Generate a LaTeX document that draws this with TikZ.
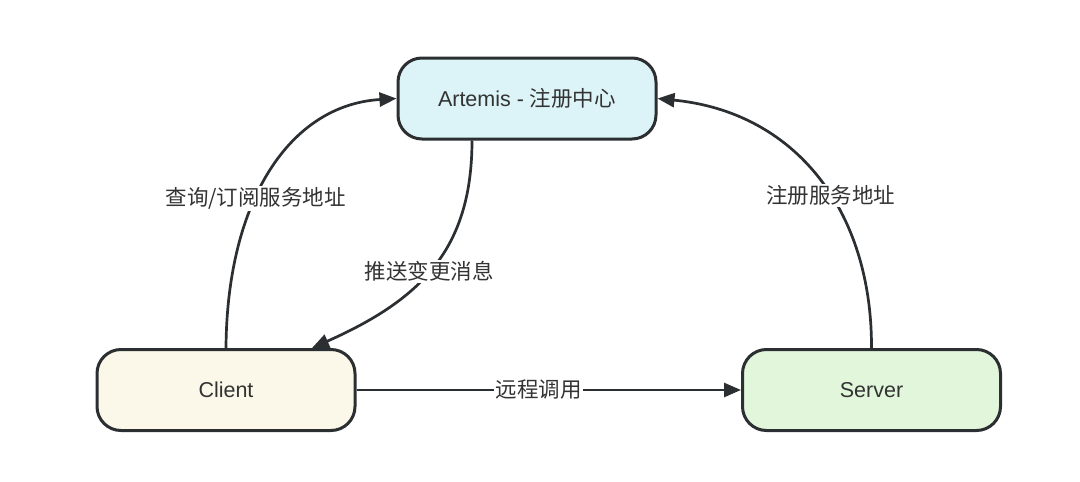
\documentclass[tikz,border=0pt]{standalone}
\usepackage{fontspec}
\setmainfont{Liberation Sans}
\newfontfamily\cjk{Noto Sans CJK SC}
\usetikzlibrary{arrows.meta}
\definecolor{ink}{HTML}{333333}
\definecolor{edge}{HTML}{2B2F32}
\definecolor{artfill}{HTML}{DCF4F7}
\definecolor{clifill}{HTML}{FBF8E9}
\definecolor{srvfill}{HTML}{E2F6DC}
\begin{document}
\begin{tikzpicture}[x=1pt,y=-1pt,
  box/.style={draw=edge, line width=3pt, rounded corners=24pt,
    minimum width=258pt, minimum height=81pt, inner sep=0pt,
    font=\fontsize{21.5}{25}\selectfont, text=ink},
  link/.style={draw=edge, line width=2.7pt, -{Triangle[length=17pt,width=14pt]}},
  lbl/.style={fill=white, text=ink, font=\cjk\fontsize{21.5}{25}\selectfont, inner sep=1.5pt}]
\fill[white] (0,0) rectangle (1080,482);
\useasboundingbox (0,0) rectangle (1080,482);
\node[box, fill=artfill] (art) at (527,98.5) {Artemis - {\cjk 注册中心}};
\node[box, fill=clifill] (cli) at (226,390) {Client};
\node[box, fill=srvfill] (srv) at (871.5,390) {Server};
\draw[link] (cli.north) .. controls (227,200) and (290,105) .. node[lbl, pos=0.4] (l1) {查询/订阅服务地址} (art.west);
\draw[link] (srv.north) .. controls (872,210) and (795,112) .. node[lbl, pos=0.43] (l2) {注册服务地址} (art.east);
\draw[link] ([xshift=-55pt]art.south) .. controls (472,250) and (420,300) .. node[lbl, pos=0.52] (l3) {推送变更消息} ([xshift=86pt]cli.north);
\draw[link] (cli.east) -- node[lbl, pos=0.474] (l4) {远程调用} (srv.west);
\end{tikzpicture}
\end{document}
